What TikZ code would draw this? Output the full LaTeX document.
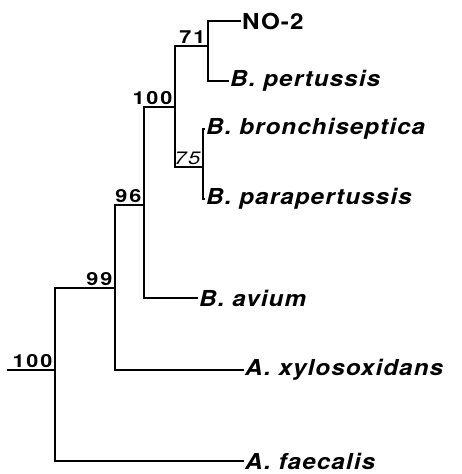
\documentclass[tikz,border=0pt]{standalone}
\usepackage{fontspec}
\newfontfamily\taxfont[FakeStretch=1.1, LetterSpace=5]{TeX Gyre Heros}
\newfontfamily\bootfont[FakeStretch=1.2, LetterSpace=10]{TeX Gyre Heros}
\usepackage{tikz}
\usetikzlibrary{positioning}

\begin{document}
\begin{tikzpicture}[
    x=1pt, y=-1pt,
    branch/.style={line width=1.8pt, line cap=rect},
    taxon/.style={anchor=west, inner sep=2pt,
      font=\taxfont\bfseries\itshape\fontsize{22}{24}\selectfont},
    boot/.style={above left, inner sep=2.5pt,
      font=\bootfont\bfseries\fontsize{18}{20}\selectfont},
    bootit/.style={above left, inner sep=2.5pt,
      font=\bootfont\itshape\fontsize{18}{20}\selectfont}
]
\useasboundingbox (0,0) rectangle (461,474);

\coordinate (stub) at (8,370);
\coordinate (root) at (55,370);
\coordinate (n99) at (115,288);
\coordinate (n96) at (144,205);
\coordinate (n100) at (175,107);
\coordinate (n71) at (208,46);
\coordinate (n75) at (203,167);

\node[taxon, font=\taxfont\bfseries\fontsize{22}{24}\selectfont] (no2) at (240,21) {NO-2};
\node[taxon] (pert) at (228,81) {B. pertussis};
\node[taxon] (bron) at (204,129) {B. bronchiseptica};
\node[taxon] (para) at (204,199) {B. parapertussis};
\node[taxon] (avium) at (197,298) {B. avium};
\node[taxon] (xylo) at (243,370) {A. xylosoxidans};
\node[taxon] (faec) at (243,461) {A. faecalis};

\node[boot] (b100r) at (root) {100};
\node[boot] (b99) at (n99) {99};
\node[boot] (b96) at (n96) {96};
\node[boot] (b100) at (n100) {100};
\node[boot] (b71) at (n71) {71};
\node[bootit] (b75) at (n75) {75};

\draw[branch] (stub) -- (root);
\draw[branch] (root) |- (n99);
\draw[branch] (root) |- (faec.west);
\draw[branch] (n99) |- (n96);
\draw[branch] (n99) |- (xylo.west);
\draw[branch] (n96) |- (n100);
\draw[branch] (n96) |- (avium.west);
\draw[branch] (n100) |- (n71);
\draw[branch] (n100) |- (n75);
\draw[branch] (n71) |- (no2.west);
\draw[branch] (n71) |- (pert.west);
\draw[branch] (n75) |- (bron.west);
\draw[branch] (n75) |- (para.west);
\end{tikzpicture}
\end{document}
